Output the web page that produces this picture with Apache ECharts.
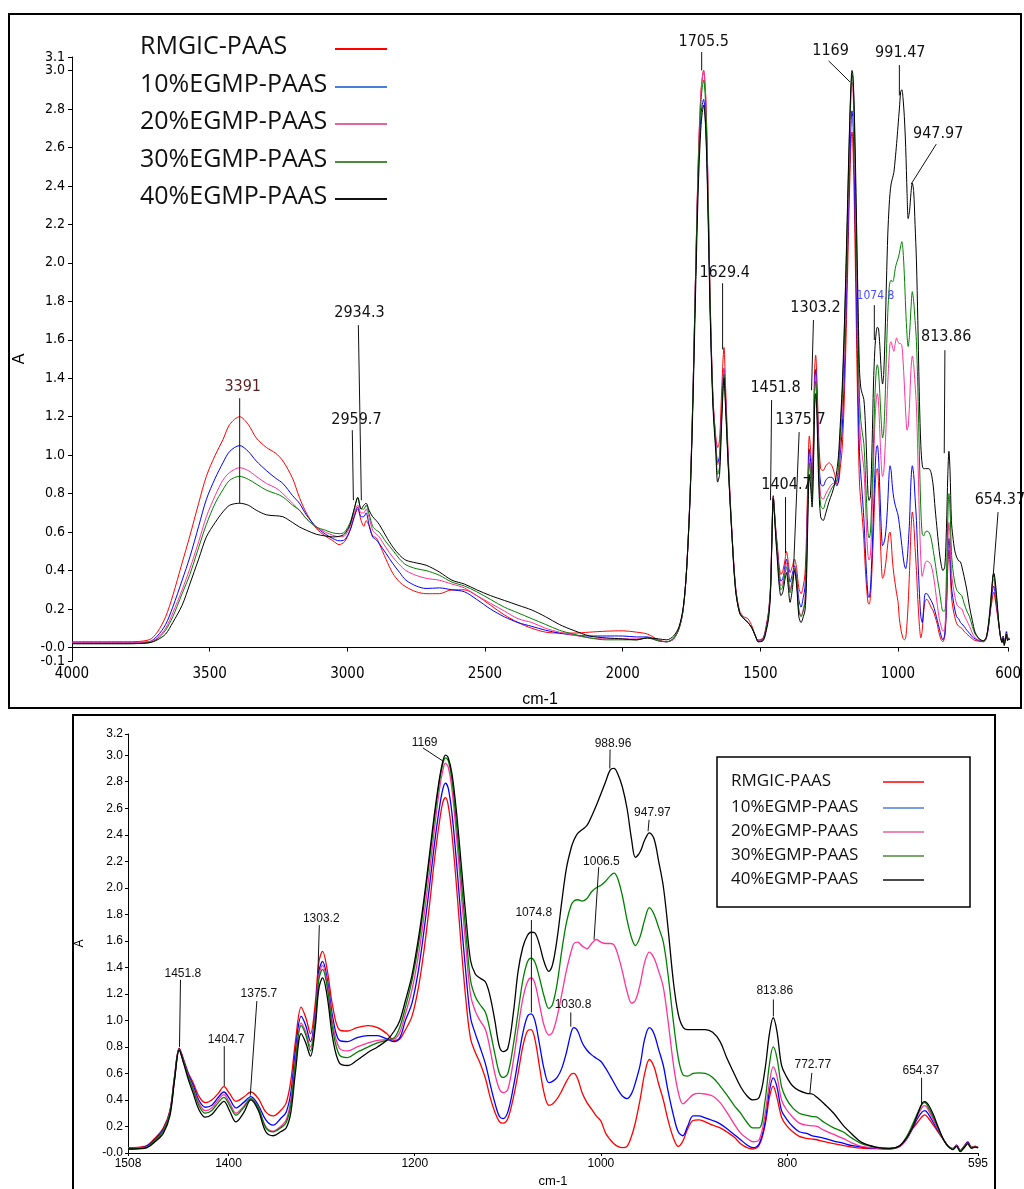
<!DOCTYPE html>
<html><head><meta charset="utf-8">
<script src="https://cdn.jsdelivr.net/npm/echarts@6/dist/echarts.min.js"></script>
<style>html,body{margin:0;padding:0;background:#fff}#c{width:1024px;height:1189px}</style>
</head><body><div id="c"></div><script>
// ---------- data ----------
const seriesNames = ['RMGIC-PAAS','10%EGMP-PAAS','20%EGMP-PAAS','30%EGMP-PAAS','40%EGMP-PAAS'];

// top panel, 4000 - 1515 cm-1
const hiWn = [4000,3800,3720,3690,3660,3634,3600,3572,3540,3512,
3480,3452,3427,3391,3360,3331,3294,3260,3234,3199,
3174,3149,3113,3080,3053,3030,3010,2990,2975,2962,
2950,2940,2932,2920,2908,2895,2884,2860,2835,2810,
2787,2750,2714,2666,2620,2575,2530,2480,2430,2380,
2330,2280,2230,2180,2120,2060,2000,1950,1910,1870,
1840,1815,1795,1780,1768,1755,1745,1735,1725,1715,
1706,1698,1690,1682,1672,1662,1655,1648,1640,1632,
1626,1615,1603,1590,1575,1560,1545,1530,1515];
const hiRed = [.03,.03,.04,.08,.16,.27,.44,.58,.75,.89,
1.00,1.08,1.16,1.20,1.16,1.09,1.04,1.01,.97,.88,
.78,.70,.62,.58,.556,.535,.55,.61,.68,.72,
.66,.63,.66,.63,.58,.57,.54,.46,.386,.34,
.315,.29,.28,.28,.30,.30,.27,.22,.17,.13,
.10,.08,.075,.075,.08,.085,.087,.08,.07,.04,
.03,.045,.10,.20,.40,.80,1.30,1.95,2.55,2.90,
3.00,2.85,2.40,1.80,1.30,1.10,1.04,1.08,1.35,1.56,
1.35,.95,.60,.32,.19,.16,.15,.11,.05];
const hiBlue = [.025,.025,.03,.06,.12,.21,.35,.47,.63,.77,
.88,.96,1.02,1.05,1.02,.97,.92,.88,.853,.79,
.75,.69,.627,.59,.567,.555,.56,.61,.68,.73,
.68,.68,.70,.63,.575,.56,.54,.49,.437,.39,
.35,.32,.307,.31,.30,.29,.25,.20,.16,.13,
.11,.09,.075,.065,.06,.06,.06,.055,.055,.035,
.03,.045,.10,.20,.40,.80,1.30,1.95,2.50,2.78,
2.85,2.70,2.30,1.75,1.28,1.07,.96,1.00,1.25,1.45,
1.28,.92,.59,.31,.18,.15,.13,.10,.05];
const hiPink = [.025,.025,.03,.05,.10,.18,.30,.41,.55,.68,
.79,.87,.91,.935,.92,.89,.853,.83,.80,.75,
.714,.67,.627,.60,.584,.576,.58,.63,.70,.74,
.70,.70,.72,.67,.61,.59,.575,.52,.47,.43,
.40,.375,.36,.35,.33,.31,.27,.23,.19,.15,
.13,.10,.08,.065,.05,.045,.045,.045,.05,.035,
.03,.045,.10,.20,.40,.80,1.30,1.95,2.55,2.90,
3.00,2.85,2.40,1.80,1.30,1.08,.95,.98,1.25,1.45,
1.28,.92,.59,.31,.18,.15,.13,.10,.05];
const hiGreen = [.02,.02,.025,.045,.09,.16,.28,.38,.52,.64,
.75,.82,.87,.89,.875,.85,.818,.80,.783,.74,
.714,.67,.627,.61,.596,.592,.60,.65,.72,.78,
.72,.72,.74,.69,.63,.61,.60,.55,.506,.46,
.43,.41,.40,.376,.34,.32,.29,.25,.21,.18,
.15,.12,.09,.07,.05,.04,.04,.04,.05,.035,
.03,.05,.10,.20,.40,.80,1.30,1.93,2.50,2.85,
2.95,2.80,2.35,1.78,1.28,1.05,.90,.94,1.22,1.42,
1.25,.90,.58,.30,.18,.15,.13,.10,.05];
const hiBlack = [.02,.02,.025,.04,.07,.13,.22,.33,.46,.575,
.65,.705,.74,.75,.74,.714,.69,.685,.68,.65,
.627,.61,.589,.58,.575,.578,.59,.64,.72,.78,
.72,.74,.75,.71,.68,.66,.64,.58,.523,.48,
.454,.44,.428,.393,.35,.33,.30,.27,.245,.22,
.195,.16,.12,.09,.06,.05,.045,.04,.05,.045,
.04,.06,.11,.21,.40,.78,1.25,1.85,2.40,2.72,
2.82,2.68,2.25,1.72,1.25,1.02,.86,.90,1.18,1.40,
1.24,.90,.58,.30,.18,.15,.13,.10,.05];

// 1508 - 595 cm-1 (bottom panel, also the low end of the top panel)
const loWn = [1508,1490,1478,1470,1463,1458,1453,1448,1443,1438,
1432,1425,1418,1411,1405,1399,1392,1384,1376,1368,
1360,1352,1344,1338,1333,1328,1322,1317,1312,1307,
1303,1299,1294,1288,1281,1272,1262,1250,1240,1230,
1222,1216,1210,1203,1196,1190,1184,1179,1174,1170,
1167,1164,1160,1155,1150,1145,1140,1135,1130,1124,
1119,1114,1109,1105,1100,1094,1089,1084,1079,1075,
1071,1066,1061,1056,1052,1047,1042,1037,1032,1029,
1025,1020,1015,1010,1005,1000,995,990,986,982,
977,972,967,963,958,953,948,943,938,933,
928,922,917,912,907,901,895,888,880,872,
865,857,850,843,837,830,824,819,815,811,
806,801,794,787,779,773,768,760,750,740,
730,720,705,690,680,672,665,660,655,652,
648,643,638,632,627,622,618,614,610,606,
602,598,595];
const loRed = [.04,.05,.12,.19,.32,.58,.79,.70,.60,.53,
.43,.38,.40,.45,.50,.45,.39,.42,.46,.41,
.31,.28,.32,.38,.55,.85,1.10,1.02,.90,1.12,
1.44,1.52,1.38,1.10,.93,.92,.945,.96,.945,.90,
.85,.86,.93,1.03,1.25,1.53,1.88,2.20,2.47,2.64,
2.68,2.62,2.40,2.00,1.55,1.15,.86,.76,.68,.56,
.42,.31,.235,.225,.26,.42,.60,.80,.92,.93,
.86,.65,.45,.36,.37,.41,.47,.54,.595,.60,
.56,.45,.38,.33,.28,.24,.15,.10,.07,.05,
.04,.05,.13,.23,.40,.60,.705,.65,.52,.40,
.25,.11,.05,.09,.18,.245,.25,.235,.21,.19,
.16,.12,.07,.04,.03,.06,.20,.42,.505,.42,
.27,.21,.16,.125,.11,.105,.10,.085,.07,.057,
.045,.037,.033,.032,.05,.11,.185,.23,.275,.288,
.26,.21,.16,.10,.05,.035,.06,.02,.05,.085,
.045,.05,.04];
const loBlue = [.035,.045,.11,.18,.31,.57,.785,.69,.59,.51,
.40,.345,.36,.42,.46,.41,.34,.38,.425,.36,
.25,.21,.26,.31,.46,.78,1.03,.96,.84,1.05,
1.37,1.445,1.31,1.02,.85,.84,.87,.885,.885,.86,
.84,.87,1.00,1.13,1.38,1.68,2.02,2.32,2.58,2.74,
2.79,2.75,2.56,2.18,1.75,1.35,1.02,.90,.80,.67,
.52,.38,.275,.26,.31,.50,.70,.90,1.03,1.05,
1.00,.82,.63,.53,.54,.57,.64,.76,.91,.945,
.92,.83,.775,.74,.715,.69,.64,.58,.53,.48,
.43,.41,.45,.53,.66,.86,.945,.90,.78,.66,
.47,.28,.16,.13,.20,.28,.28,.265,.245,.22,
.185,.14,.10,.06,.04,.07,.22,.47,.567,.50,
.32,.26,.20,.16,.148,.13,.123,.11,.09,.074,
.055,.045,.035,.03,.045,.10,.19,.26,.31,.32,
.29,.23,.17,.10,.05,.03,.06,.02,.05,.08,
.04,.05,.04];
const loPink = [.035,.04,.10,.17,.30,.56,.78,.68,.575,.49,
.38,.32,.34,.40,.44,.38,.30,.35,.41,.34,
.20,.165,.20,.25,.40,.72,.98,.91,.80,1.02,
1.34,1.415,1.28,.97,.79,.77,.80,.83,.85,.855,
.86,.91,1.05,1.23,1.49,1.79,2.13,2.43,2.72,2.88,
2.94,2.91,2.74,2.38,1.95,1.55,1.19,1.07,1.00,.93,
.78,.60,.48,.455,.48,.70,.94,1.16,1.29,1.32,
1.28,1.12,.96,.89,.91,1.03,1.20,1.38,1.52,1.58,
1.59,1.56,1.54,1.58,1.61,1.59,1.58,1.58,1.57,1.50,
1.37,1.22,1.13,1.15,1.27,1.44,1.515,1.47,1.37,1.25,
1.00,.66,.46,.37,.40,.44,.45,.445,.43,.38,
.31,.22,.15,.11,.085,.10,.28,.53,.65,.58,
.40,.33,.27,.225,.21,.205,.20,.17,.14,.11,
.075,.05,.038,.032,.045,.10,.20,.28,.345,.357,
.32,.25,.18,.10,.05,.03,.055,.02,.045,.075,
.04,.05,.04];
const loGreen = [.03,.04,.10,.17,.30,.56,.78,.68,.57,.48,
.36,.30,.32,.38,.42,.36,.285,.34,.41,.34,
.19,.16,.19,.23,.37,.70,.96,.89,.77,.99,
1.31,1.385,1.25,.93,.74,.72,.76,.80,.83,.85,
.87,.95,1.10,1.30,1.57,1.88,2.22,2.51,2.78,2.93,
2.98,2.96,2.81,2.47,2.06,1.66,1.30,1.18,1.12,1.06,
.92,.75,.60,.57,.60,.82,1.06,1.30,1.44,1.47,
1.44,1.32,1.18,1.09,1.12,1.28,1.53,1.74,1.87,1.90,
1.91,1.90,1.92,1.97,2.00,2.02,2.05,2.09,2.11,2.07,
1.94,1.76,1.62,1.565,1.63,1.76,1.85,1.80,1.70,1.59,
1.35,.98,.72,.59,.58,.60,.605,.60,.57,.505,
.44,.36,.30,.23,.19,.19,.38,.67,.80,.72,
.50,.41,.34,.30,.284,.275,.27,.23,.19,.16,
.11,.07,.045,.035,.05,.12,.22,.30,.37,.38,
.34,.27,.19,.10,.05,.03,.05,.015,.04,.07,
.04,.045,.04];
const loBlack = [.03,.035,.09,.15,.28,.55,.775,.67,.55,.45,
.33,.27,.29,.35,.39,.32,.235,.30,.40,.32,
.16,.13,.16,.19,.31,.62,.90,.83,.73,.94,
1.24,1.32,1.18,.86,.68,.66,.70,.76,.80,.85,
.92,1.00,1.15,1.34,1.62,1.92,2.26,2.55,2.80,2.95,
3.00,2.98,2.86,2.56,2.17,1.78,1.45,1.35,1.32,1.29,
1.18,1.00,.80,.765,.79,1.06,1.37,1.55,1.64,1.665,
1.66,1.57,1.44,1.37,1.42,1.62,1.90,2.15,2.30,2.36,
2.41,2.44,2.47,2.54,2.62,2.71,2.80,2.89,2.90,2.86,
2.76,2.60,2.36,2.23,2.27,2.36,2.415,2.37,2.20,2.01,
1.70,1.28,1.05,.95,.93,.93,.93,.93,.91,.84,
.72,.60,.50,.43,.40,.42,.62,.90,1.02,.92,
.66,.58,.505,.47,.45,.445,.42,.37,.30,.21,
.14,.08,.045,.035,.05,.11,.20,.29,.375,.387,
.36,.29,.20,.10,.05,.025,.05,.01,.04,.07,
.035,.045,.04];

// tick labels
const topXTicks = [4000,3500,3000,2500,2000,1500,1000,600];
const topYTicks = [-0.07,0,0.2,0.4,0.6,0.8,1.0,1.2,1.4,1.6,1.8,2.0,2.2,2.4,2.6,2.8,3.0,3.07];
const topYLabels = [0,0.2,0.4,0.6,0.8,1.0,1.2,1.4,1.6,1.8,2.0,2.2,2.4,2.6,2.8,3.0];
const topYEndLabels = [['-0.1',-0.07],['3.1',3.07]];
const botXTicks = [1508,1400,1200,1000,800,595];
const botYTicks = [0,0.2,0.4,0.6,0.8,1.0,1.2,1.4,1.6,1.8,2.0,2.2,2.4,2.6,2.8,3.0,3.16];

// peak annotations [label anchor, leader line start, leader line end] in data units
const topNotes = [
 {t:'3391', c:'#5c1f1f', at:[3380,1.354], from:[3391,1.296], to:[3391,0.75]},
 {t:'2934.3', at:[2956,1.738], from:[2960,1.676], to:[2949,0.766]},
 {t:'2959.7', at:[2967,1.182], from:[2982,1.13], to:[2978,0.766]},
 {t:'1705.5', at:[1705.7,3.148], from:[1713,3.096], to:[1713,3.0]},
 {t:'1629.4', at:[1629.6,1.946], from:[1637,1.894], to:[1637,1.55]},
 {t:'1169', at:[1245,3.10], from:[1252,3.05], to:[1174,2.94]},
 {t:'991.47', at:[991.7,3.09], from:[995,3.028], to:[995,2.87]},
 {t:'947.97', at:[854,2.67], from:[861,2.617], to:[952,2.41]},
 {t:'1074.8', c:'#4a4aff', s:12, at:[1082,1.827], from:[1086,1.78], to:[1086,1.598]},
 {t:'1303.2', at:[1299.6,1.765], from:[1307,1.703], to:[1314,1.338]},
 {t:'1451.8', at:[1444.7,1.348], from:[1459,1.287], to:[1463,0.766]},
 {t:'1375.7', at:[1354,1.182], from:[1359,1.12], to:[1379,0.418]},
 {t:'1404.7', at:[1405,0.844], from:[1408.5,0.782], to:[1408.5,0.49]},
 {t:'813.86', at:[825,1.614], from:[829.6,1.546], to:[832,1.01]},
 {t:'654.37', at:[630,0.766], from:[636.5,0.704], to:[654.6,0.366]}
];
const botNotes = [
 {t:'1451.8', at:[1449.1,1.356], from:[1451.6,1.306], to:[1452.7,0.80]},
 {t:'1404.7', at:[1402.5,0.857], from:[1404.6,0.806], to:[1404.6,0.505]},
 {t:'1375.7', at:[1367.4,1.20], from:[1369.6,1.146], to:[1376.7,0.432]},
 {t:'1303.2', at:[1300.4,1.77], from:[1302.5,1.718], to:[1304,1.356]},
 {t:'1169', at:[1189.4,3.095], from:[1191.2,3.055], to:[1169.7,2.956]},
 {t:'988.96', at:[987,3.087], from:[990.2,3.043], to:[990.5,2.90]},
 {t:'947.97', at:[944.7,2.57], from:[948.3,2.513], to:[949.4,2.427]},
 {t:'1006.5', at:[999.5,2.20], from:[1002.4,2.156], to:[1007.4,1.609]},
 {t:'1074.8', at:[1072.2,1.811], from:[1074.7,1.757], to:[1074.7,1.06]},
 {t:'1030.8', at:[1030,1.116], from:[1032.4,1.06], to:[1032.4,0.953]},
 {t:'813.86', at:[813.3,1.225], from:[814.8,1.158], to:[814.8,1.03]},
 {t:'772.77', at:[772.4,0.663], from:[773.5,0.604], to:[775.6,0.449]},
 {t:'654.37', at:[656.4,0.619], from:[655.6,0.567], to:[655.6,0.357]}
];

// ---------- chart ----------
const lineColors = ['#ff0000','#0000ff','#ff3399','#008000','#000000'];
const legendColors = ['#ff0000','#4a7fd9','#e4649c','#4e8a3c','#111111'];
const NARROW = "'Liberation Sans Narrow','DejaVu Sans Condensed','Liberation Sans',sans-serif";
const SANS = "'Liberation Sans',Arial,sans-serif";
const hiSets = [hiRed,hiBlue,hiPink,hiGreen,hiBlack];
const loSets = [loRed,loBlue,loPink,loGreen,loBlack];
const zip = (xs, ys) => xs.map((x,i)=>[x, ys[i]]);

function yFmtTop(v){ if (Math.abs(v) < 1e-6) return '-0.0'; return v.toFixed(1); }
function yFmtBot(v){ if (Math.abs(v) < 1e-6) return '-0.0'; if (v > 3.1) return '3.2'; return v.toFixed(1); }
const xFmt = v => String(Math.round(v));

const axisLineStyle = {show:true, lineStyle:{color:'#000', width:1}};
const chart = echarts.init(document.getElementById('c'), null, {renderer:'canvas'});

const series = [];
for (let k = 0; k < 5; k++) {
  series.push({name:seriesNames[k], type:'line', xAxisIndex:0, yAxisIndex:0,
    data: zip(hiWn.concat(loWn), hiSets[k].concat(loSets[k])),
    showSymbol:false, smooth:0.3, lineStyle:{width:1, color:lineColors[k]}, itemStyle:{color:lineColors[k]}, z:2+k});
}
for (let k = 0; k < 5; k++) {
  series.push({name:seriesNames[k], type:'line', xAxisIndex:1, yAxisIndex:1,
    data: zip(loWn, loSets[k]),
    showSymbol:false, smooth:0.35, lineStyle:{width:1.3, color:lineColors[k]}, itemStyle:{color:lineColors[k]}, z:2+k});
}

const labelCommon = {showMinLabel:true, showMaxLabel:true, hideOverlap:false};

chart.setOption({
  animation:false,
  backgroundColor:'#fff',
  grid:[
    {left:72, right:14, top:57, height:604},
    {left:128, right:46, top:734, height:428}
  ],
  xAxis:[
    {type:'value', gridIndex:0, min:600, max:4000, inverse:true,
     name:'cm-1', nameLocation:'middle', nameGap:31, nameTextStyle:{fontFamily:SANS, fontSize:16, color:'#000'},
     axisLine:axisLineStyle, splitLine:{show:false},
     axisTick:{show:true, length:4, customValues:topXTicks, lineStyle:{color:'#000'}},
     axisLabel:Object.assign({customValues:topXTicks, formatter:xFmt, fontFamily:NARROW, fontSize:15, color:'#000', margin:6}, labelCommon)},
    {type:'value', gridIndex:1, min:595, max:1508, inverse:true,
     name:'cm-1', nameLocation:'middle', nameGap:22, nameTextStyle:{fontFamily:SANS, fontSize:13, color:'#000'},
     axisLine:axisLineStyle, splitLine:{show:false},
     axisTick:{show:true, length:3, customValues:botXTicks, lineStyle:{color:'#000'}},
     axisLabel:Object.assign({customValues:botXTicks, formatter:xFmt, fontFamily:SANS, fontSize:12, color:'#000', margin:5}, labelCommon)}
  ],
  yAxis:[
    {type:'value', gridIndex:0, min:-0.07, max:3.07,
     name:'A', nameLocation:'middle', nameGap:44, nameRotate:90, nameTextStyle:{fontFamily:SANS, fontSize:16, color:'#000'},
     axisLine:axisLineStyle, splitLine:{show:false},
     axisTick:{show:true, length:4, customValues:topYTicks, lineStyle:{color:'#000'}},
     axisLabel:Object.assign({customValues:topYLabels, formatter:yFmtTop, fontFamily:NARROW, fontSize:14, color:'#000', margin:7}, labelCommon)},
    {type:'value', gridIndex:1, min:0, max:3.16,
     name:'A', nameLocation:'middle', nameGap:42, nameRotate:90, nameTextStyle:{fontFamily:SANS, fontSize:12, color:'#000'},
     axisLine:axisLineStyle, splitLine:{show:false},
     axisTick:{show:true, length:3, customValues:botYTicks, lineStyle:{color:'#000'}},
     axisLabel:Object.assign({customValues:botYTicks, formatter:yFmtBot, fontFamily:SANS, fontSize:12, color:'#000', margin:5}, labelCommon)}
  ],
  series: series
});

// ---------- decorations (frames, legends, annotations) ----------
const g = [];
function txt(text, x, y, size, family, color, align, z){
  g.push({type:'text', z:z||50, style:{text:text, x:x, y:y, fontSize:size, fontFamily:family, fill:color,
    align:align||'center', verticalAlign:'middle', textAlign:align||'center', textVerticalAlign:'middle'}});
}
function seg(x1,y1,x2,y2,color,w,z){
  g.push({type:'line', z:z||49, shape:{x1:x1,y1:y1,x2:x2,y2:y2}, style:{stroke:color, lineWidth:w}});
}
// end labels of the top y axis (squeezed against neighbours, as in the original)
topYEndLabels.forEach(([label, v]) => {
  const p = chart.convertToPixel({gridIndex:0}, [4000, v]);
  txt(label, p[0] - 7, p[1], 14, NARROW, '#000', 'right');
});
// frames
g.push({type:'rect', z:60, shape:{x:9, y:14, width:1012, height:694}, style:{fill:'none', stroke:'#000', lineWidth:2}});
g.push({type:'rect', z:60, shape:{x:73, y:715, width:922, height:490}, style:{fill:'none', stroke:'#000', lineWidth:2}});
// top legend
const topLegY = [47, 85, 122, 160, 197];
for (let k = 0; k < 5; k++) {
  txt(seriesNames[k], 140, topLegY[k], 25, "'Open Sans',sans-serif", '#111', 'left', 70);
  seg(335, topLegY[k]+2, 387, topLegY[k]+2, legendColors[k], 2, 70);
}
// bottom legend
g.push({type:'rect', z:65, shape:{x:717, y:757, width:253, height:150}, style:{fill:'#fff', stroke:'#000', lineWidth:1.5}});
const botLegY = [781, 807, 831, 855, 879];
for (let k = 0; k < 5; k++) {
  txt(seriesNames[k], 731, botLegY[k], 17, "'Open Sans',sans-serif", '#111', 'left', 70);
  seg(883, botLegY[k]+1, 924, botLegY[k]+1, legendColors[k], 1.6, 70);
}
// annotations
function notes(list, gi, size, family, lw){
  list.forEach(n => {
    const a = chart.convertToPixel({gridIndex:gi}, n.at);
    const p1 = chart.convertToPixel({gridIndex:gi}, n.from);
    const p2 = chart.convertToPixel({gridIndex:gi}, n.to);
    seg(p1[0], p1[1], p2[0], p2[1], '#111', lw);
    txt(n.t, a[0], a[1], n.s || size, family, n.c || '#111');
  });
}
notes(topNotes, 0, 16, NARROW, 1);
notes(botNotes, 1, 12, SANS, 1);
chart.setOption({graphic: g});
</script></body></html>
